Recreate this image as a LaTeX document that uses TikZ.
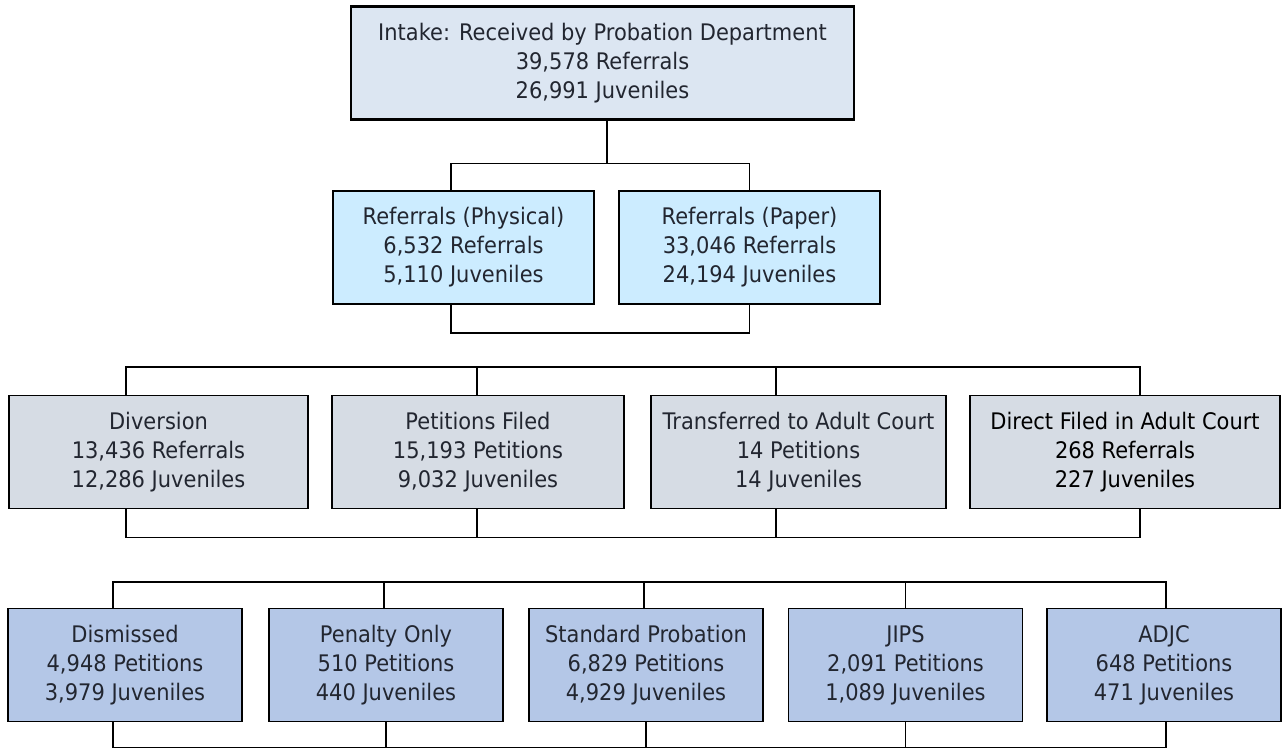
\documentclass[tikz,border=0pt]{standalone}
\usepackage{fontspec}
\setmainfont[FakeStretch=0.92]{DejaVu Sans}
\usepackage{tikz}

\definecolor{intakefill}{RGB}{220,230,242}
\definecolor{reffill}{RGB}{204,236,255}
\definecolor{midfill}{RGB}{214,220,228}
\definecolor{outfill}{RGB}{180,199,231}
\definecolor{txt}{RGB}{34,38,48}

\begin{document}
\begin{tikzpicture}[x=1pt, y=-1pt,
  box/.style={rectangle, draw=black, line width=1.8pt, inner sep=0pt, align=center,
    minimum height=113pt, text=txt, font=\fontsize{22.8}{29}\selectfont},
  conn/.style={draw=black, line width=1.8pt}]
\useasboundingbox[fill=white] (0,0) rectangle (1288,749);

\node[box, fill=intakefill, minimum width=503pt, line width=2.2pt] (intake) at (602.5,63) {Intake: Received by Probation Department\\39,578 Referrals\\26,991 Juveniles};

\node[box, fill=reffill, minimum width=261pt] (physical) at (463.5,247.5) {Referrals (Physical)\\6,532 Referrals\\5,110 Juveniles};
\node[box, fill=reffill, minimum width=261pt] (paper) at (749.5,247.5) {Referrals (Paper)\\33,046 Referrals\\24,194 Juveniles};

\node[box, fill=midfill, minimum width=299pt] (diversion) at (158.5,452) {Diversion\\13,436 Referrals\\12,286 Juveniles};
\node[box, fill=midfill, minimum width=292pt] (petitions) at (478,452) {Petitions Filed\\15,193 Petitions\\9,032 Juveniles};
\node[box, fill=midfill, minimum width=295pt] (transferred) at (798.5,452) {Transferred to Adult Court\\14 Petitions\\14 Juveniles};
\node[box, fill=midfill, minimum width=310pt, text=black] (direct) at (1125,452) {Direct Filed in Adult Court\\268 Referrals\\227 Juveniles};

\node[box, fill=outfill, minimum width=234pt] (dismissed) at (125,665) {Dismissed\\4,948 Petitions\\3,979 Juveniles};
\node[box, fill=outfill, minimum width=234pt] (penalty) at (386,665) {Penalty Only\\510 Petitions\\440 Juveniles};
\node[box, fill=outfill, minimum width=234pt] (standard) at (646,665) {Standard Probation\\6,829 Petitions\\4,929 Juveniles};
\node[box, fill=outfill, minimum width=234pt] (jips) at (905.5,665) {JIPS\\2,091 Petitions\\1,089 Juveniles};
\node[box, fill=outfill, minimum width=234pt] (adjc) at (1164,665) {ADJC\\648 Petitions\\471 Juveniles};

\draw[conn] ([xshift=4.5pt]intake.south) -- ++(0,43) coordinate (split);
\draw[conn] ([xshift=-12.5pt]physical.north) |- (split) -| (paper.north);
\draw[conn] ([xshift=-12.5pt]physical.south) -- ++(0,28) -| (paper.south);

\draw[conn] ([xshift=-32.5pt]diversion.north) -- ++(0,-28) -| ([xshift=15pt]direct.north);
\draw[conn] ([xshift=-1pt]petitions.north) -- ++(0,-28);
\draw[conn] ([xshift=-22.5pt]transferred.north) -- ++(0,-28);
\draw[conn] ([xshift=-32.5pt]diversion.south) -- ++(0,28) -| ([xshift=15pt]direct.south);
\draw[conn] ([xshift=-1pt]petitions.south) -- ++(0,28);
\draw[conn] ([xshift=-22.5pt]transferred.south) -- ++(0,28);

\draw[conn] ([xshift=-12pt]dismissed.north) -- ++(0,-26) -| ([xshift=2pt]adjc.north);
\draw[conn] ([xshift=-2pt]penalty.north) -- ++(0,-26);
\draw[conn] ([xshift=-2pt]standard.north) -- ++(0,-26);
\draw[conn] (jips.north) -- ++(0,-26);
\draw[conn] ([xshift=-12pt]dismissed.south) -- ++(0,25) -| ([xshift=2pt]adjc.south);
\draw[conn] (penalty.south) -- ++(0,25);
\draw[conn] (standard.south) -- ++(0,25);
\draw[conn] (jips.south) -- ++(0,25);
\end{tikzpicture}
\end{document}
